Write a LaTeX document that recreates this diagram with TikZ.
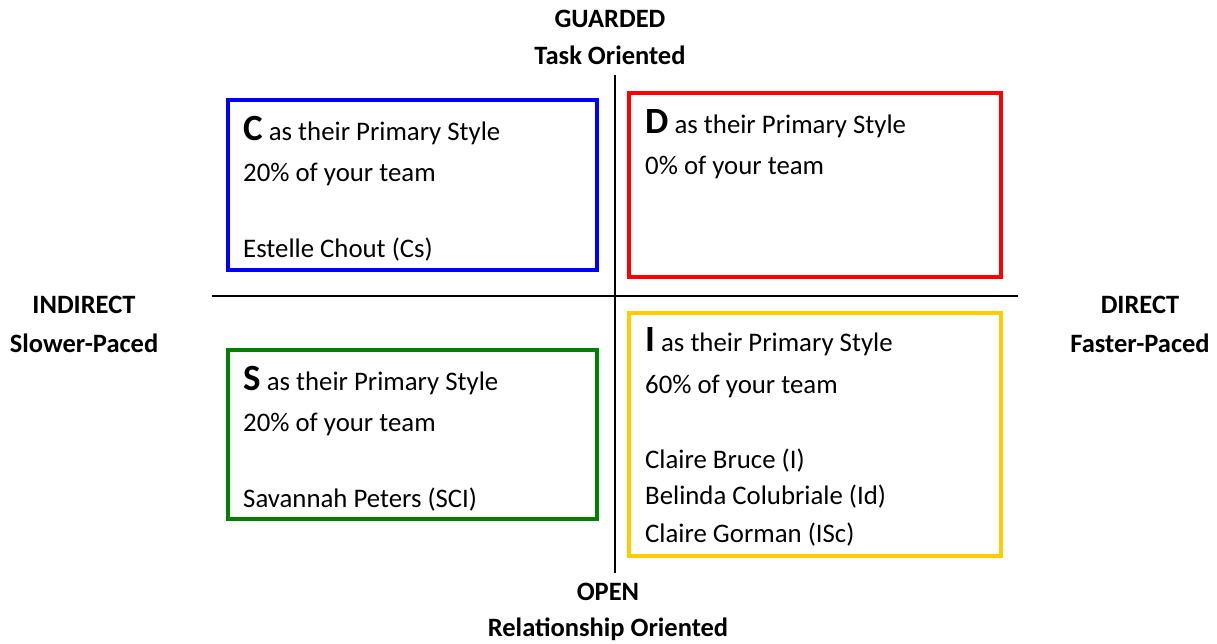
\documentclass[tikz,border=0pt]{standalone}
\usepackage{fontspec}
\setmainfont{Carlito}
\begin{document}
\begin{tikzpicture}[x=1pt, y=-1pt,
    axislabel/.style={font=\fontsize{26.5}{31}\selectfont\bfseries, anchor=base, inner sep=0pt},
    boxtext/.style={font=\fontsize{26.8}{32}\selectfont, anchor=base west, inner sep=0pt},
    quadbox/.style={draw=#1, line width=3.5pt}]
    \useasboundingbox (0,0) rectangle (1217,643);

    \definecolor{cblue}{RGB}{0,0,255}
    \definecolor{cred}{RGB}{255,0,0}
    \definecolor{cgreen}{RGB}{0,128,0}
    \definecolor{cyellow}{RGB}{255,204,0}
    \newcommand{\bigletter}[1]{{\fontsize{37}{44}\selectfont\bfseries #1}}

    % axes
    \coordinate (T) at (615, 75);
    \coordinate (B) at (615, 573);
    \coordinate (L) at (212, 296);
    \coordinate (R) at (1018, 296);
    \draw[line width=1.3pt] (T) -- (B);
    \draw[line width=1.3pt] (L) -- (R);

    % axis labels
    \node[axislabel] (guarded) at (610, 27) {GUARDED};
    \node[axislabel] (task) at (610, 64) {Task Oriented};
    \node[axislabel] (indirect) at (84, 313) {INDIRECT};
    \node[axislabel] (slower) at (84, 352) {Slower-Paced};
    \node[axislabel] (direct) at (1140, 313) {DIRECT};
    \node[axislabel] (faster) at (1140, 352) {Faster-Paced};
    \node[axislabel] (open) at (608, 600) {OPEN};
    \node[axislabel] (relation) at (608, 636) {Relationship Oriented};

    % C quadrant
    \draw[quadbox=cblue] (228, 100) rectangle (597, 270);
    \node[boxtext] (c1) at (243, 140) {\bigletter{C} as their Primary Style};
    \node[boxtext] (c2) at (243, 181) {20\% of your team};
    \node[boxtext] (c3) at (243, 257) {Estelle Chout (Cs)};

    % D quadrant
    \draw[quadbox=cred] (629, 93) rectangle (1001, 277);
    \node[boxtext] (d1) at (645, 133) {\bigletter{D} as their Primary Style};
    \node[boxtext] (d2) at (645, 174) {0\% of your team};

    % S quadrant
    \draw[quadbox=cgreen] (228, 350) rectangle (597, 519);
    \node[boxtext] (s1) at (243, 390) {\bigletter{S} as their Primary Style};
    \node[boxtext] (s2) at (243, 431) {20\% of your team};
    \node[boxtext] (s3) at (243, 507) {Savannah Peters (SCI)};

    % I quadrant
    \draw[quadbox=cyellow] (629, 313) rectangle (1001, 556);
    \node[boxtext] (i1) at (645, 351) {\bigletter{I} as their Primary Style};
    \node[boxtext] (i2) at (645, 393) {60\% of your team};
    \node[boxtext] (i3) at (645, 468) {Claire Bruce (I)};
    \node[boxtext] (i4) at (645, 504) {Belinda Colubriale (Id)};
    \node[boxtext] (i5) at (645, 542) {Claire Gorman (ISc)};
\end{tikzpicture}
\end{document}
